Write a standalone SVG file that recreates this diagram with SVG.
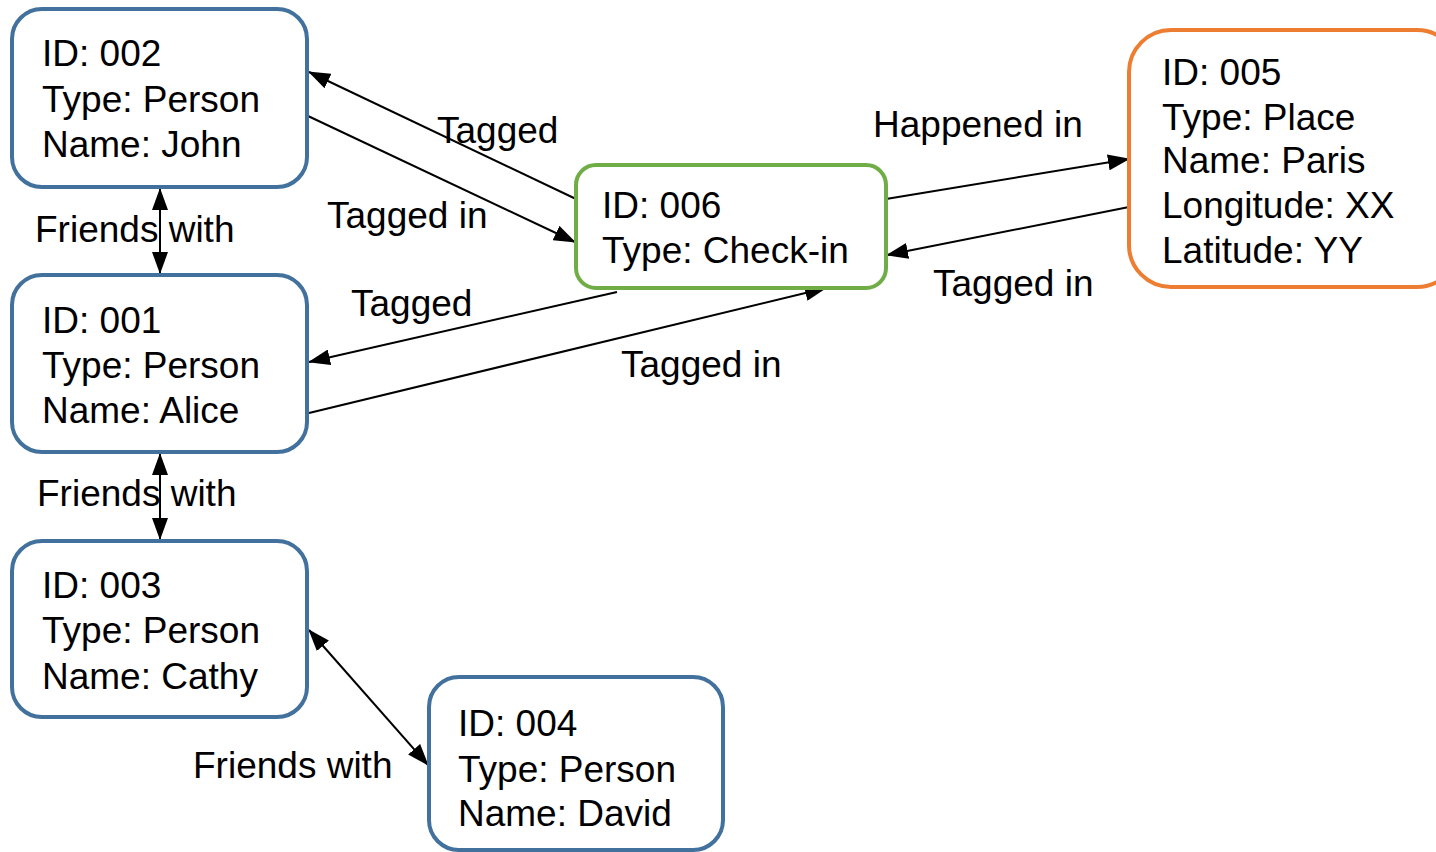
<svg xmlns="http://www.w3.org/2000/svg" width="1436" height="852" viewBox="0 0 1436 852">
<style>
text{font-family:"Liberation Sans",Arial,sans-serif;font-size:37px;fill:#000}
.box{fill:#fff;stroke-width:4}
.p{stroke:#41719C}
.g{stroke:#70AD47}
.o{stroke:#ED7D31}
.e{stroke:#000;stroke-width:2;fill:none}
</style>
<defs>
<marker id="ah" markerUnits="userSpaceOnUse" markerWidth="22" markerHeight="16" refX="21" refY="8" orient="auto-start-reverse" viewBox="0 0 22 16">
<path d="M0,0 L22,8 L0,16 z" fill="#000"/>
</marker>
</defs>
<rect width="1436" height="852" fill="#fff"/>
<g id="connectors">
<line class="e" x1="576" y1="199" x2="309" y2="72" marker-end="url(#ah)"/>
<line class="e" x1="308" y1="116" x2="575" y2="242" marker-end="url(#ah)"/>
<line class="e" x1="886" y1="199" x2="1129" y2="159" marker-end="url(#ah)"/>
<line class="e" x1="1129" y1="207" x2="887" y2="255" marker-end="url(#ah)"/>
<line class="e" x1="617" y1="292" x2="309" y2="362" marker-end="url(#ah)"/>
<line class="e" x1="309" y1="413" x2="826" y2="288" marker-end="url(#ah)"/>
<line class="e" x1="160" y1="189" x2="160" y2="273" marker-start="url(#ah)" marker-end="url(#ah)"/>
<line class="e" x1="160" y1="454" x2="160" y2="539" marker-start="url(#ah)" marker-end="url(#ah)"/>
<line class="e" x1="309" y1="630" x2="428" y2="765" marker-start="url(#ah)" marker-end="url(#ah)"/>
<text x="437" y="143">Tagged</text>
<text x="327" y="228">Tagged in</text>
<text x="873" y="137">Happened in</text>
<text x="933" y="296">Tagged in</text>
<text x="351" y="316">Tagged</text>
<text x="621" y="377">Tagged in</text>
<text x="35" y="242">Friends with</text>
<text x="37" y="506">Friends with</text>
<text x="193" y="778">Friends with</text>
</g>
<g id="n002">
<rect class="box p" x="12" y="9" width="295" height="178" rx="30"/>
<text x="42" y="66">ID: 002</text>
<text x="42" y="112">Type: Person</text>
<text x="42" y="157">Name: John</text>
</g>
<g id="n001">
<rect class="box p" x="12" y="275" width="295" height="177" rx="30"/>
<text x="42" y="333">ID: 001</text>
<text x="42" y="378">Type: Person</text>
<text x="42" y="423">Name: Alice</text>
</g>
<g id="n003">
<rect class="box p" x="12" y="541" width="295" height="176" rx="30"/>
<text x="42" y="598">ID: 003</text>
<text x="42" y="643">Type: Person</text>
<text x="42" y="689">Name: Cathy</text>
</g>
<g id="n004">
<rect class="box p" x="429" y="677" width="294" height="173" rx="30"/>
<text x="458" y="736">ID: 004</text>
<text x="458" y="782">Type: Person</text>
<text x="458" y="826">Name: David</text>
</g>
<g id="n006">
<rect class="box g" x="576" y="165" width="310" height="123" rx="20"/>
<text x="602" y="218">ID: 006</text>
<text x="602" y="263">Type: Check-in</text>
</g>
<g id="n005">
<rect class="box o" x="1129" y="30" width="330" height="257" rx="42"/>
<text x="1162" y="85">ID: 005</text>
<text x="1162" y="130">Type: Place</text>
<text x="1162" y="173">Name: Paris</text>
<text x="1162" y="218">Longitude: XX</text>
<text x="1162" y="263">Latitude: YY</text>
</g>
</svg>
